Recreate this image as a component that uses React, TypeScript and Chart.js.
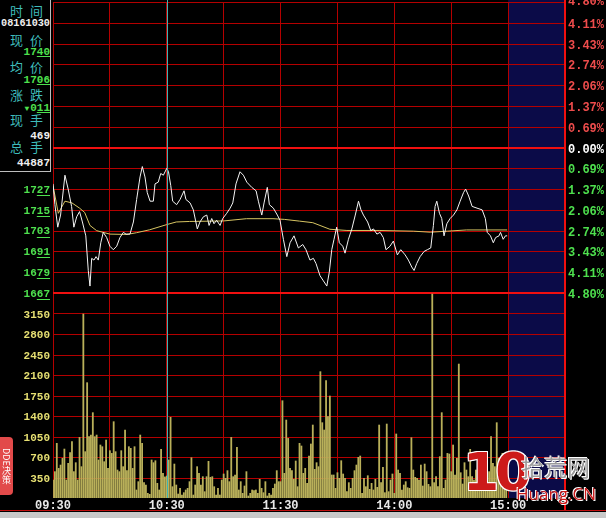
import React, { useEffect, useRef } from 'react';
import { Chart, registerables } from 'chart.js';

Chart.register(...registerables);

// ---------- data ----------
const PREV_CLOSE = 1751;
const PRICE_TICKS = [1835, 1823, 1811, 1799, 1787, 1775, 1763, 1751, 1739, 1727, 1715, 1703, 1691, 1679, 1667];
const PCT_LABELS = ['4.80%', '4.11%', '3.43%', '2.74%', '2.06%', '1.37%', '0.69%', '0.00%', '0.69%', '1.37%', '2.06%', '2.74%', '3.43%', '4.11%', '4.80%'];
const VOLUME_TICKS = [350, 700, 1050, 1400, 1750, 2100, 2450, 2800, 3150];
const VOLUME_TOP = 3500;
const TIME_TICKS = [0, 60, 120, 180, 240];
const TIME_LABELS = ['09:30', '10:30', '11:30', '14:00', '15:00'];
const SESSION_END = 240;
const AXIS_END = 270;
const CURSOR_MINUTE = 60;

const PRICE_MINUTES = [0, 1, 2.5, 4, 6.3, 8, 9.8, 11, 12.5, 14, 15.5, 17.3, 18.6, 19.5, 20.4, 21.6, 22.7, 23.9, 25.2, 26.5, 28.3, 30, 31.8, 33.6, 35.3, 37.1, 38.5, 40.6, 42.4, 44.1, 45.9, 47.1, 48.5, 49.7, 51.2, 52.9, 53.8, 55.5, 56.8, 58.2, 60, 60.9, 62.1, 63.1, 65.2, 67, 69.1, 70.1, 72.3, 74, 76.1, 77.5, 79.3, 81.1, 82.3, 83.7, 84.9, 86.3, 88.1, 89.5, 91.6, 93.4, 94.8, 96.5, 98.6, 100.4, 102.2, 104.8, 107.1, 108.3, 110.1, 111.3, 113, 114.1, 116.2, 118.3, 119.7, 121.5, 123.3, 125, 127.1, 129.4, 131.7, 133.4, 135.5, 137.3, 138.7, 140.8, 142.6, 144.4, 145.7, 147, 148.2, 149.6, 151, 152.8, 154, 155.8, 157.6, 159.4, 161.1, 162.4, 163.7, 165.9, 167.6, 169, 170.8, 172.5, 174.2, 175.6, 177.7, 179.5, 181.6, 183.4, 185.7, 187.4, 189.2, 190.4, 191.8, 193.6, 195.7, 197.4, 199.2, 200.6, 201.5, 202.4, 203.8, 205, 206.2, 207.7, 209.4, 211.2, 213, 214.7, 216.5, 217.6, 219.2, 221, 223.6, 226.3, 228, 229, 230.7, 232.2, 233.4, 235.2, 236, 237.4, 238.6, 239.5];
const PRICE_VALUES = [1730, 1718, 1705, 1712, 1735, 1727, 1717, 1705, 1711, 1714, 1708, 1700, 1680, 1671, 1687, 1686, 1688, 1686, 1696, 1702, 1699, 1694, 1692, 1694, 1699, 1702, 1701, 1701, 1708, 1721, 1734, 1740, 1734, 1725, 1720, 1720, 1730, 1731, 1736, 1735, 1739, 1737, 1729, 1720, 1718, 1721, 1726, 1721, 1719, 1715, 1704, 1708, 1711, 1712, 1706, 1710, 1707, 1709, 1706, 1710, 1713, 1716, 1719, 1730, 1737, 1735, 1731, 1728, 1726, 1720, 1712, 1719, 1728, 1718, 1716, 1712, 1709, 1698, 1688, 1696, 1700, 1693, 1695, 1692, 1686, 1687, 1684, 1677, 1674, 1671, 1679, 1692, 1698, 1705, 1696, 1694, 1690, 1698, 1704, 1712, 1720, 1715, 1712, 1708, 1703, 1704, 1701, 1702, 1699, 1692, 1694, 1697, 1689, 1692, 1689, 1686, 1682, 1680, 1684, 1688, 1691, 1692, 1693, 1706, 1717, 1720, 1713, 1710, 1700, 1707, 1710, 1712, 1715, 1720, 1725, 1727, 1723, 1717, 1716, 1715, 1710, 1702, 1700, 1696, 1699, 1700, 1702, 1698, 1700, 1700];

const AVG_MINUTES = [0, 2.8, 6.3, 10, 14, 16.7, 19.5, 23, 30, 39, 44, 51, 60, 65, 72, 90, 102, 116, 122, 130, 137, 146, 155, 172, 190, 199, 208, 218, 239.5];
const AVG_VALUES = [1729, 1713, 1720, 1719, 1716, 1713.5, 1706, 1703, 1701, 1700.8, 1701.8, 1703.5, 1706.5, 1708, 1708.3, 1708.6, 1709.9, 1709.9, 1709.5, 1708.5, 1707.6, 1703.8, 1703.1, 1703.1, 1702.7, 1702.1, 1702.7, 1703.4, 1703.4];

const VOLUMES = [
  307, 450, 933, 506, 563, 677, 836, 307, 592, 774,
  962, 450, 603, 307, 1035, 535, 3141, 791, 1969, 1047,
  1075, 1457, 1047, 1075, 649, 905, 876, 620, 990, 506,
  808, 762, 1303, 791, 478, 450, 808, 535, 1161, 467,
  876, 848, 506, 876, 137, 279, 1075, 933, 262, 222,
  80, 63, 649, 603, 637, 250, 137, 830, 421, 360,
  375, 649, 1377, 193, 580, 222, 68, 165, 51, 91,
  137, 165, 279, 688, 51, 222, 535, 421, 222, 364,
  108, 364, 626, 353, 364, 193, 51, 165, 51, 307,
  410, 336, 467, 279, 1035, 364, 393, 865, 137, 279,
  80, 205, 450, 34, 80, 137, 125, 137, 80, 319,
  165, 91, 279, 34, 80, 51, 165, 239, 467, 279,
  279, 1661, 421, 1331, 1018, 506, 467, 319, 632, 193,
  933, 888, 421, 506, 250, 717, 922, 1246, 489, 603,
  535, 2157, 1286, 1161, 2003, 1388, 1741, 393, 393, 165,
  432, 336, 637, 410, 336, 108, 262, 165, 336, 467,
  563, 694, 717, 80, 336, 193, 381, 148, 250, 137,
  319, 182, 1246, 262, 523, 91, 1263, 108, 307, 410,
  80, 1093, 478, 421, 137, 222, 279, 176, 165, 1030,
  478, 353, 336, 307, 563, 205, 580, 450, 233, 193,
  3482, 262, 364, 193, 706, 1457, 165, 307, 762, 751,
  450, 905, 393, 677, 2287, 432, 239, 603, 478, 364,
  831, 364, 307, 478, 250, 393, 364, 279, 336, 421,
  450, 1047, 592, 535, 1286, 677, 478, 762, 649, 500,
];

const INFO_LABELS = ['时间', '现价', '均价', '涨跌', '现手', '总手'];
const INFO_VALUES = ['08161030', '1740', '1706', '011', '469', '44887'];

// ---------- layout / style ----------
const W = 606;
const H = 518;
const PRICE_SHARE = 291 / 496;
const PANEL_BOTTOM = 172;
const GREEN = '#4ee04e';
const YELLOW = '#e6df72';
const RED_TXT = '#ee4c4c';
const GRID = '#b40000';
const BRIGHT = '#f01010';
const MONO = '"Liberation Mono", "DejaVu Sans Mono", monospace';

const priceLow = PRICE_TICKS[PRICE_TICKS.length - 1];
const priceHigh = PRICE_TICKS[0];
const priceMin = priceLow - (priceHigh - priceLow) * (1 - PRICE_SHARE) / PRICE_SHARE;
const volMax = VOLUME_TOP / (1 - PRICE_SHARE);

const deco = {
  id: 'deco',
  beforeDraw(chart: any) {
    const { ctx, chartArea: a, scales } = chart;
    ctx.save();
    ctx.fillStyle = '#000';
    ctx.fillRect(0, 0, chart.width, chart.height);
    const x0 = scales.x.getPixelForValue(SESSION_END);
    const x1 = scales.x.getPixelForValue(AXIS_END);
    ctx.fillStyle = '#0b0b48';
    ctx.fillRect(x0, 0, x1 - x0, a.bottom);
    ctx.restore();
  },
  beforeDatasetsDraw(chart: any) {
    const { ctx, chartArea: a, scales } = chart;
    ctx.save();
    const hline = (y: number, color: string, w: number) => {
      ctx.fillStyle = color;
      ctx.fillRect(a.left, Math.round(y) - (w > 1 ? 1 : 0), a.right - a.left, w);
    };
    PRICE_TICKS.forEach((v) => {
      const y = scales.y.getPixelForValue(v);
      if (v === PREV_CLOSE || v === priceLow) hline(y, BRIGHT, 2);
      else hline(y, GRID, 1);
    });
    VOLUME_TICKS.forEach((v) => hline(scales.yv.getPixelForValue(v), GRID, 1));
    ctx.restore();
  },
  afterDatasetsDraw(chart: any) {
    const { ctx, chartArea: a, scales } = chart;
    ctx.save();
    const cx = Math.round(scales.x.getPixelForValue(CURSOR_MINUTE));
    ctx.fillStyle = '#3fb3b3';
    ctx.fillRect(cx, 0, 1, a.bottom);
    const rx = Math.round(scales.x.getPixelForValue(AXIS_END));
    ctx.fillStyle = BRIGHT;
    ctx.fillRect(rx - 1, 0, 2, 511);
    ctx.font = `bold 11px ${MONO}`;
    ctx.textAlign = 'right';
    ctx.textBaseline = 'middle';
    PRICE_TICKS.forEach((v) => {
      const y = scales.y.getPixelForValue(v) + 1;
      if (y < PANEL_BOTTOM + 6) return;
      const s = String(v);
      ctx.fillStyle = GREEN;
      ctx.fillText(s, 50, y);
      const w2 = ctx.measureText(s.slice(-2)).width;
      ctx.fillRect(50 - w2, Math.round(y) + 5, w2, 1);
    });
    VOLUME_TICKS.forEach((v) => {
      const y = scales.yv.getPixelForValue(v) + 1.5;
      ctx.fillStyle = YELLOW;
      ctx.fillText(String(v), 50, y);
    });
    ctx.font = `bold 12px ${MONO}`;
    ctx.textAlign = 'left';
    PRICE_TICKS.forEach((v, i) => {
      const y = scales.y.getPixelForValue(v) + 2;
      ctx.fillStyle = v > PREV_CLOSE ? RED_TXT : v === PREV_CLOSE ? '#ffffff' : GREEN;
      ctx.fillText(PCT_LABELS[i], 568, i === 0 ? y - 2 : y);
    });
    ctx.restore();
  },
  afterDraw(chart: any) {
    const { ctx } = chart;
    ctx.save();
    ctx.fillStyle = '#c01010';
    ctx.fillRect(0, 510, W, 1);
    ctx.fillStyle = '#c9c9c9';
    ctx.fillRect(0, 512, W, 6);
    ctx.restore();
  },
};

const infoStyle = (top: number, h = 14): React.CSSProperties => ({
  position: 'absolute',
  top,
  height: h,
  lineHeight: `${h}px`,
  whiteSpace: 'nowrap',
});

export default function App() {
  const ref = useRef<HTMLCanvasElement>(null);

  useEffect(() => {
    const chart = new Chart(ref.current as HTMLCanvasElement, {
      type: 'bar',
      data: {
        datasets: [
          {
            type: 'line',
            data: PRICE_MINUTES.map((m, i) => ({ x: m, y: PRICE_VALUES[i] })),
            yAxisID: 'y',
            borderColor: '#f4f4f4',
            borderWidth: 1,
            pointRadius: 0,
            tension: 0,
          },
          {
            type: 'line',
            data: AVG_MINUTES.map((m, i) => ({ x: m, y: AVG_VALUES[i] })),
            yAxisID: 'y',
            borderColor: '#d6c462',
            borderWidth: 1,
            pointRadius: 0,
            tension: 0,
          },
          {
            type: 'bar',
            data: VOLUMES.map((v, i) => ({ x: i, y: v })),
            yAxisID: 'yv',
            backgroundColor: '#b9b05a',
            barThickness: 1.15,
            grouped: false,
          },
        ] as any,
      },
      options: {
        animation: false,
        responsive: false,
        events: [],
        plugins: { legend: { display: false }, tooltip: { enabled: false } },
        layout: { padding: { left: 53, right: 41, top: 2, bottom: 0 } },
        scales: {
          x: {
            type: 'linear',
            min: 0,
            max: AXIS_END,
            offset: false,
            grid: { color: GRID, lineWidth: 1, drawTicks: false, offset: false },
            border: { display: false },
            ticks: {
              stepSize: 30,
              autoSkip: false,
              maxRotation: 0,
              padding: 1,
              color: '#e8e8e8',
              font: { family: MONO, size: 12, weight: 'bold' },
              callback: (v: any) => {
                const i = TIME_TICKS.indexOf(Number(v));
                return i >= 0 ? TIME_LABELS[i] : '';
              },
            },
            afterFit: (s: any) => {
              s.height = 20;
            },
          },
          y: { type: 'linear', display: false, min: priceMin, max: priceHigh },
          yv: { type: 'linear', display: false, min: 0, max: volMax },
        },
      } as any,
      plugins: [deco],
    });
    return () => chart.destroy();
  }, []);

  const cjk = '"Noto Sans CJK SC", sans-serif';
  const labelCenters = [11, 40, 67, 95, 120, 147];
  const valueCenters = [24, 52, 80, 108, 136, 163];

  return (
    <div style={{ position: 'fixed', left: 0, top: 0, width: W, height: H, background: '#000', overflow: 'hidden' }}>
      <canvas ref={ref} width={W} height={H} style={{ position: 'absolute', left: 0, top: 0 }} />
      <div
        style={{
          position: 'absolute',
          left: 0,
          top: 0,
          width: 50,
          height: PANEL_BOTTOM - 1,
          background: '#000',
          borderRight: '1px solid #bdbdbd',
          borderBottom: '1px solid #bdbdbd',
        }}
      >
        {INFO_LABELS.map((l, i) => (
          <div
            key={l}
            style={{
              ...infoStyle(labelCenters[i] - 8, 16),
              left: 10,
              fontFamily: cjk,
              fontSize: 13,
              letterSpacing: 7,
              color: '#3fbcbc',
            }}
          >
            {l}
          </div>
        ))}
        {INFO_VALUES.map((v, i) => {
          const green = i >= 1 && i <= 3;
          const under = green ? 2 : 0;
          return (
            <div
              key={i}
              style={{
                ...infoStyle(valueCenters[i] - 7),
                right: 0,
                fontFamily: MONO,
                fontWeight: 'bold',
                fontSize: i === 0 ? 10.2 : 11,
                color: green ? GREEN : '#f0f0f0',
                textAlign: 'right',
              }}
            >
              {i === 3 && <span style={{ fontSize: 8, marginRight: 1 }}>▼</span>}
              {under ? v.slice(0, v.length - under) : v}
              {under ? <span style={{ textDecoration: 'underline' }}>{v.slice(-under)}</span> : null}
            </div>
          );
        })}
      </div>
      <div
        style={{
          position: 'absolute',
          left: 0,
          top: 437,
          width: 13,
          height: 58,
          background: '#e24a4a',
          borderRadius: '0 4px 4px 0',
          color: '#fff',
          fontSize: 9,
          lineHeight: '13px',
          writingMode: 'vertical-rl',
          textAlign: 'center',
          fontFamily: cjk,
          overflow: 'hidden',
        }}
      >
        DDE决策
      </div>
      <div
        style={{
          position: 'absolute',
          left: 463,
          top: 442,
          fontFamily: '"DejaVu Sans", sans-serif',
          fontWeight: 'bold',
          fontSize: 52,
          lineHeight: '60px',
          color: '#cc1a1a',
          letterSpacing: -4,
          textShadow: '1px 1px 0 #fff, -1px -1px 0 #fff, 1px -1px 0 #fff, -1px 1px 0 #fff',
        }}
      >
        10
      </div>
      <div
        style={{
          position: 'absolute',
          left: 521,
          top: 451,
          fontFamily: cjk,
          fontSize: 23,
          lineHeight: '30px',
          color: '#9c9c9c',
          textShadow: '1px 1px 0 #fff, -1px -1px 0 #fff',
        }}
      >
        拾荒网
      </div>
      <div
        style={{
          position: 'absolute',
          left: 516,
          top: 482,
          fontFamily: '"Open Sans", sans-serif',
          fontSize: 17,
          lineHeight: '24px',
          color: '#cc1a1a',
          textShadow: '1px 1px 0 #fff, -1px -1px 0 #fff',
        }}
      >
        Huang.CN
      </div>
    </div>
  );
}
